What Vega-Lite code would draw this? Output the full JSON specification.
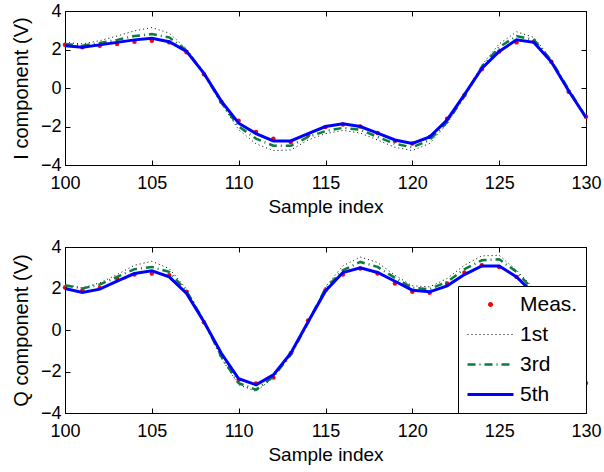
{
  "$schema": "https://vega.github.io/schema/vega-lite/v6.json",
  "padding": {"left": 10, "top": 1, "right": 0, "bottom": 0},
  "spacing": 20,
  "datasets": {
    "I": [
      {"x":100,"s":"Meas.","y":2.25},{"x":101,"s":"Meas.","y":2.12},{"x":102,"s":"Meas.","y":2.2},{"x":103,"s":"Meas.","y":2.29},{"x":104,"s":"Meas.","y":2.4},{"x":105,"s":"Meas.","y":2.46},{"x":106,"s":"Meas.","y":2.37},{"x":107,"s":"Meas.","y":1.86},{"x":108,"s":"Meas.","y":0.71},{"x":109,"s":"Meas.","y":-0.71},{"x":110,"s":"Meas.","y":-1.7},{"x":111,"s":"Meas.","y":-2.29},{"x":112,"s":"Meas.","y":-2.63},{"x":113,"s":"Meas.","y":-2.8},{"x":114,"s":"Meas.","y":-2.46},{"x":115,"s":"Meas.","y":-2.03},{"x":116,"s":"Meas.","y":-1.9},{"x":117,"s":"Meas.","y":-2.0},{"x":118,"s":"Meas.","y":-2.34},{"x":119,"s":"Meas.","y":-2.75},{"x":120,"s":"Meas.","y":-2.88},{"x":121,"s":"Meas.","y":-2.55},{"x":122,"s":"Meas.","y":-1.6},{"x":123,"s":"Meas.","y":-0.37},{"x":124,"s":"Meas.","y":0.97},{"x":125,"s":"Meas.","y":1.9},{"x":126,"s":"Meas.","y":2.37},{"x":127,"s":"Meas.","y":2.4},{"x":128,"s":"Meas.","y":1.36},{"x":129,"s":"Meas.","y":-0.2},{"x":130,"s":"Meas.","y":-1.49},
      {"x":100,"s":"1st","y":2.37},{"x":101,"s":"1st","y":2.29},{"x":102,"s":"1st","y":2.46},{"x":103,"s":"1st","y":2.7},{"x":104,"s":"1st","y":2.97},{"x":105,"s":"1st","y":3.14},{"x":106,"s":"1st","y":2.85},{"x":107,"s":"1st","y":2.03},{"x":108,"s":"1st","y":0.81},{"x":109,"s":"1st","y":-0.81},{"x":110,"s":"1st","y":-2.17},{"x":111,"s":"1st","y":-2.9},{"x":112,"s":"1st","y":-3.25},{"x":113,"s":"1st","y":-3.22},{"x":114,"s":"1st","y":-2.7},{"x":115,"s":"1st","y":-2.37},{"x":116,"s":"1st","y":-2.2},{"x":117,"s":"1st","y":-2.34},{"x":118,"s":"1st","y":-2.7},{"x":119,"s":"1st","y":-3.08},{"x":120,"s":"1st","y":-3.25},{"x":121,"s":"1st","y":-2.88},{"x":122,"s":"1st","y":-1.86},{"x":123,"s":"1st","y":-0.42},{"x":124,"s":"1st","y":1.19},{"x":125,"s":"1st","y":2.29},{"x":126,"s":"1st","y":2.92},{"x":127,"s":"1st","y":2.63},{"x":128,"s":"1st","y":1.49},{"x":129,"s":"1st","y":-0.08},{"x":130,"s":"1st","y":-1.56},
      {"x":100,"s":"3rd","y":2.29},{"x":101,"s":"3rd","y":2.2},{"x":102,"s":"3rd","y":2.34},{"x":103,"s":"3rd","y":2.5},{"x":104,"s":"3rd","y":2.7},{"x":105,"s":"3rd","y":2.8},{"x":106,"s":"3rd","y":2.63},{"x":107,"s":"3rd","y":1.95},{"x":108,"s":"3rd","y":0.76},{"x":109,"s":"3rd","y":-0.76},{"x":110,"s":"3rd","y":-2.0},{"x":111,"s":"3rd","y":-2.63},{"x":112,"s":"3rd","y":-3.0},{"x":113,"s":"3rd","y":-3.0},{"x":114,"s":"3rd","y":-2.54},{"x":115,"s":"3rd","y":-2.24},{"x":116,"s":"3rd","y":-2.07},{"x":117,"s":"3rd","y":-2.17},{"x":118,"s":"3rd","y":-2.54},{"x":119,"s":"3rd","y":-2.9},{"x":120,"s":"3rd","y":-3.08},{"x":121,"s":"3rd","y":-2.7},{"x":122,"s":"3rd","y":-1.78},{"x":123,"s":"3rd","y":-0.42},{"x":124,"s":"3rd","y":1.1},{"x":125,"s":"3rd","y":2.12},{"x":126,"s":"3rd","y":2.7},{"x":127,"s":"3rd","y":2.5},{"x":128,"s":"3rd","y":1.44},{"x":129,"s":"3rd","y":-0.08},{"x":130,"s":"3rd","y":-1.53},
      {"x":100,"s":"5th","y":2.2},{"x":101,"s":"5th","y":2.12},{"x":102,"s":"5th","y":2.24},{"x":103,"s":"5th","y":2.37},{"x":104,"s":"5th","y":2.5},{"x":105,"s":"5th","y":2.58},{"x":106,"s":"5th","y":2.4},{"x":107,"s":"5th","y":1.9},{"x":108,"s":"5th","y":0.76},{"x":109,"s":"5th","y":-0.68},{"x":110,"s":"5th","y":-1.83},{"x":111,"s":"5th","y":-2.37},{"x":112,"s":"5th","y":-2.75},{"x":113,"s":"5th","y":-2.75},{"x":114,"s":"5th","y":-2.37},{"x":115,"s":"5th","y":-2.0},{"x":116,"s":"5th","y":-1.86},{"x":117,"s":"5th","y":-2.0},{"x":118,"s":"5th","y":-2.34},{"x":119,"s":"5th","y":-2.7},{"x":120,"s":"5th","y":-2.88},{"x":121,"s":"5th","y":-2.54},{"x":122,"s":"5th","y":-1.66},{"x":123,"s":"5th","y":-0.34},{"x":124,"s":"5th","y":1.02},{"x":125,"s":"5th","y":1.9},{"x":126,"s":"5th","y":2.5},{"x":127,"s":"5th","y":2.37},{"x":128,"s":"5th","y":1.36},{"x":129,"s":"5th","y":-0.14},{"x":130,"s":"5th","y":-1.53}
    ],
    "Q": [
      {"x":100,"s":"Meas.","y":2.05},{"x":101,"s":"Meas.","y":1.92},{"x":102,"s":"Meas.","y":2.03},{"x":103,"s":"Meas.","y":2.48},{"x":104,"s":"Meas.","y":2.67},{"x":105,"s":"Meas.","y":2.72},{"x":106,"s":"Meas.","y":2.64},{"x":107,"s":"Meas.","y":1.84},{"x":108,"s":"Meas.","y":0.37},{"x":109,"s":"Meas.","y":-1.2},{"x":110,"s":"Meas.","y":-2.4},{"x":111,"s":"Meas.","y":-2.58},{"x":112,"s":"Meas.","y":-2.29},{"x":113,"s":"Meas.","y":-1.12},{"x":114,"s":"Meas.","y":0.46},{"x":115,"s":"Meas.","y":1.92},{"x":116,"s":"Meas.","y":2.67},{"x":117,"s":"Meas.","y":2.96},{"x":118,"s":"Meas.","y":2.72},{"x":119,"s":"Meas.","y":2.24},{"x":120,"s":"Meas.","y":1.84},{"x":121,"s":"Meas.","y":1.79},{"x":122,"s":"Meas.","y":2.24},{"x":123,"s":"Meas.","y":2.77},{"x":124,"s":"Meas.","y":3.12},{"x":125,"s":"Meas.","y":3.04},{"x":126,"s":"Meas.","y":2.56},{"x":127,"s":"Meas.","y":1.7},{"x":128,"s":"Meas.","y":0.2},{"x":129,"s":"Meas.","y":-1.4},{"x":130,"s":"Meas.","y":-2.56},
      {"x":100,"s":"1st","y":2.19},{"x":101,"s":"1st","y":2.03},{"x":102,"s":"1st","y":2.27},{"x":103,"s":"1st","y":2.67},{"x":104,"s":"1st","y":3.12},{"x":105,"s":"1st","y":3.31},{"x":106,"s":"1st","y":2.96},{"x":107,"s":"1st","y":1.97},{"x":108,"s":"1st","y":0.43},{"x":109,"s":"1st","y":-1.36},{"x":110,"s":"1st","y":-2.64},{"x":111,"s":"1st","y":-2.96},{"x":112,"s":"1st","y":-2.29},{"x":113,"s":"1st","y":-1.2},{"x":114,"s":"1st","y":0.32},{"x":115,"s":"1st","y":2.08},{"x":116,"s":"1st","y":3.09},{"x":117,"s":"1st","y":3.52},{"x":118,"s":"1st","y":3.25},{"x":119,"s":"1st","y":2.64},{"x":120,"s":"1st","y":2.13},{"x":121,"s":"1st","y":2.08},{"x":122,"s":"1st","y":2.48},{"x":123,"s":"1st","y":3.12},{"x":124,"s":"1st","y":3.57},{"x":125,"s":"1st","y":3.6},{"x":126,"s":"1st","y":2.88},{"x":127,"s":"1st","y":2.0},{"x":128,"s":"1st","y":0.3},{"x":129,"s":"1st","y":-1.5},{"x":130,"s":"1st","y":-2.7},
      {"x":100,"s":"3rd","y":2.16},{"x":101,"s":"3rd","y":2.0},{"x":102,"s":"3rd","y":2.19},{"x":103,"s":"3rd","y":2.56},{"x":104,"s":"3rd","y":2.93},{"x":105,"s":"3rd","y":3.04},{"x":106,"s":"3rd","y":2.8},{"x":107,"s":"3rd","y":1.87},{"x":108,"s":"3rd","y":0.43},{"x":109,"s":"3rd","y":-1.28},{"x":110,"s":"3rd","y":-2.56},{"x":111,"s":"3rd","y":-2.88},{"x":112,"s":"3rd","y":-2.24},{"x":113,"s":"3rd","y":-1.2},{"x":114,"s":"3rd","y":0.37},{"x":115,"s":"3rd","y":2.0},{"x":116,"s":"3rd","y":2.88},{"x":117,"s":"3rd","y":3.28},{"x":118,"s":"3rd","y":3.04},{"x":119,"s":"3rd","y":2.51},{"x":120,"s":"3rd","y":2.03},{"x":121,"s":"3rd","y":1.97},{"x":122,"s":"3rd","y":2.32},{"x":123,"s":"3rd","y":2.93},{"x":124,"s":"3rd","y":3.36},{"x":125,"s":"3rd","y":3.41},{"x":126,"s":"3rd","y":2.8},{"x":127,"s":"3rd","y":1.9},{"x":128,"s":"3rd","y":0.25},{"x":129,"s":"3rd","y":-1.45},{"x":130,"s":"3rd","y":-2.6},
      {"x":100,"s":"5th","y":2.0},{"x":101,"s":"5th","y":1.81},{"x":102,"s":"5th","y":1.97},{"x":103,"s":"5th","y":2.35},{"x":104,"s":"5th","y":2.72},{"x":105,"s":"5th","y":2.85},{"x":106,"s":"5th","y":2.56},{"x":107,"s":"5th","y":1.76},{"x":108,"s":"5th","y":0.4},{"x":109,"s":"5th","y":-1.12},{"x":110,"s":"5th","y":-2.35},{"x":111,"s":"5th","y":-2.64},{"x":112,"s":"5th","y":-2.16},{"x":113,"s":"5th","y":-1.12},{"x":114,"s":"5th","y":0.4},{"x":115,"s":"5th","y":1.88},{"x":116,"s":"5th","y":2.77},{"x":117,"s":"5th","y":3.0},{"x":118,"s":"5th","y":2.77},{"x":119,"s":"5th","y":2.35},{"x":120,"s":"5th","y":1.92},{"x":121,"s":"5th","y":1.84},{"x":122,"s":"5th","y":2.13},{"x":123,"s":"5th","y":2.67},{"x":124,"s":"5th","y":3.09},{"x":125,"s":"5th","y":3.09},{"x":126,"s":"5th","y":2.56},{"x":127,"s":"5th","y":1.75},{"x":128,"s":"5th","y":0.3},{"x":129,"s":"5th","y":-1.3},{"x":130,"s":"5th","y":-2.5}
    ]
  },
  "vconcat": [
    {
      "width": 521, "height": 154,
      "data": {"name": "I"},
      "encoding": {
        "x": {"field": "x", "type": "quantitative", "scale": {"domain": [100, 130], "nice": false, "zero": false}, "axis": null},
        "y": {"field": "y", "type": "quantitative", "scale": {"domain": [-4, 4], "nice": false}, "axis": null},
        "color": {"field": "s", "type": "nominal", "scale": {"domain": ["Meas.", "1st", "3rd", "5th"], "range": ["#ff0000", "#000000", "#0a7d3c", "#0000ff"]}, "legend": null}
      },
      "layer": [
        {
          "transform": [{"filter": "datum.s === 'Meas.'"}],
          "mark": {"type": "point", "filled": true, "size": 20, "opacity": 1},
          "encoding": {
            "x": {"field": "x", "type": "quantitative", "scale": {"domain": [100, 130], "nice": false, "zero": false}, "axis": {"orient": "bottom", "title": "Sample index", "values": [100, 105, 110, 115, 120, 125, 130], "format": "d"}},
            "y": {"field": "y", "type": "quantitative", "scale": {"domain": [-4, 4], "nice": false}, "axis": {"orient": "left", "title": "I component (V)", "values": [-4, -2, 0, 2, 4], "format": "d"}}
          }
        },
        {
          "transform": [{"filter": "datum.s === '1st'"}],
          "mark": {"type": "line", "strokeWidth": 1, "strokeDash": [1, 3]},
          "encoding": {
            "x": {"field": "x", "type": "quantitative", "scale": {"domain": [100, 130], "nice": false, "zero": false}, "axis": {"orient": "top", "title": null, "labels": false, "values": [100, 105, 110, 115, 120, 125, 130]}},
            "y": {"field": "y", "type": "quantitative", "scale": {"domain": [-4, 4], "nice": false}, "axis": {"orient": "right", "title": null, "labels": false, "values": [-4, -2, 0, 2, 4]}}
          }
        },
        {
          "transform": [{"filter": "datum.s === '3rd'"}],
          "mark": {"type": "line", "strokeWidth": 2.5, "strokeDash": [8, 4, 1, 4]}
        },
        {
          "transform": [{"filter": "datum.s === '5th'"}],
          "mark": {"type": "line", "strokeWidth": 3}
        }
      ],
      "resolve": {"axis": {"x": "independent", "y": "independent"}}
    },
    {
      "width": 521, "height": 166,
      "data": {"name": "Q"},
      "encoding": {
        "x": {"field": "x", "type": "quantitative", "scale": {"domain": [100, 130], "nice": false, "zero": false}, "axis": null},
        "y": {"field": "y", "type": "quantitative", "scale": {"domain": [-4, 4], "nice": false}, "axis": null},
        "color": {"field": "s", "type": "nominal", "scale": {"domain": ["Meas.", "1st", "3rd", "5th"], "range": ["#ff0000", "#000000", "#0a7d3c", "#0000ff"]},
          "legend": {
            "orient": "bottom-right", "offset": 0, "title": null,
            "fillColor": "white", "strokeColor": "black", "padding": 8,
            "labelFont": "Liberation Sans", "labelFontSize": 21, "labelColor": "black",
            "rowPadding": 8, "symbolType": "stroke", "symbolSize": 2116, "labelOffset": 5, "clipHeight": 21,
            "encode": {"symbols": {"update": {
              "shape": {"signal": "(datum.value === 'Meas.' ? 'M0,-0.11A0.11,0.11,0,1,1,0,0.11A0.11,0.11,0,1,1,0,-0.11Z' : 'stroke')"},
              "size": {"value": 2116},
              "strokeDash": {"signal": "(datum.value === '1st' ? [1, 3] : datum.value === '3rd' ? [8, 4, 1, 4] : [1, 0])"},
              "strokeWidth": {"signal": "(datum.value === 'Meas.' ? 0 : datum.value === '1st' ? 1 : datum.value === '3rd' ? 2.5 : 3)"},
              "fill": {"signal": "(datum.value === 'Meas.' ? '#ff0000' : 'transparent')"},
              "stroke": {"signal": "(datum.value === 'Meas.' ? '#ff0000' : datum.value === '1st' ? '#000000' : datum.value === '3rd' ? '#0a7d3c' : '#0000ff')"},
              "opacity": {"value": 1}
            }}}
          }
        }
      },
      "layer": [
        {
          "transform": [{"filter": "datum.s === 'Meas.'"}],
          "mark": {"type": "point", "filled": true, "size": 20, "opacity": 1},
          "encoding": {
            "x": {"field": "x", "type": "quantitative", "scale": {"domain": [100, 130], "nice": false, "zero": false}, "axis": {"orient": "bottom", "title": "Sample index", "values": [100, 105, 110, 115, 120, 125, 130], "format": "d"}},
            "y": {"field": "y", "type": "quantitative", "scale": {"domain": [-4, 4], "nice": false}, "axis": {"orient": "left", "title": "Q component (V)", "values": [-4, -2, 0, 2, 4], "format": "d"}}
          }
        },
        {
          "transform": [{"filter": "datum.s === '1st'"}],
          "mark": {"type": "line", "strokeWidth": 1, "strokeDash": [1, 3]},
          "encoding": {
            "x": {"field": "x", "type": "quantitative", "scale": {"domain": [100, 130], "nice": false, "zero": false}, "axis": {"orient": "top", "title": null, "labels": false, "values": [100, 105, 110, 115, 120, 125, 130]}},
            "y": {"field": "y", "type": "quantitative", "scale": {"domain": [-4, 4], "nice": false}, "axis": {"orient": "right", "title": null, "labels": false, "values": [-4, -2, 0, 2, 4]}}
          }
        },
        {
          "transform": [{"filter": "datum.s === '3rd'"}],
          "mark": {"type": "line", "strokeWidth": 2.5, "strokeDash": [8, 4, 1, 4]}
        },
        {
          "transform": [{"filter": "datum.s === '5th'"}],
          "mark": {"type": "line", "strokeWidth": 3}
        }
      ],
      "resolve": {"axis": {"x": "independent", "y": "independent"}}
    }
  ],
  "resolve": {"scale": {"color": "independent"}, "legend": {"color": "independent"}},
  "config": {
    "font": "Liberation Sans",
    "view": {"stroke": "black", "strokeWidth": 1},
    "axis": {
      "grid": false, "domainColor": "black", "domainWidth": 1, "tickColor": "black", "tickSize": -5, "tickWidth": 1,
      "labelFont": "Liberation Sans", "labelFontSize": 18, "labelColor": "black", "labelPadding": 14, "labelFlush": false,
      "titleFont": "Liberation Sans", "titleFontSize": 19, "titleFontWeight": "normal", "titleColor": "black", "titlePadding": 5
    },
    "axisLeft": {"labelPadding": 9, "titlePadding": 9, "titleFontSize": 20},
    "axisRight": {"labelPadding": 9}
  }
}
